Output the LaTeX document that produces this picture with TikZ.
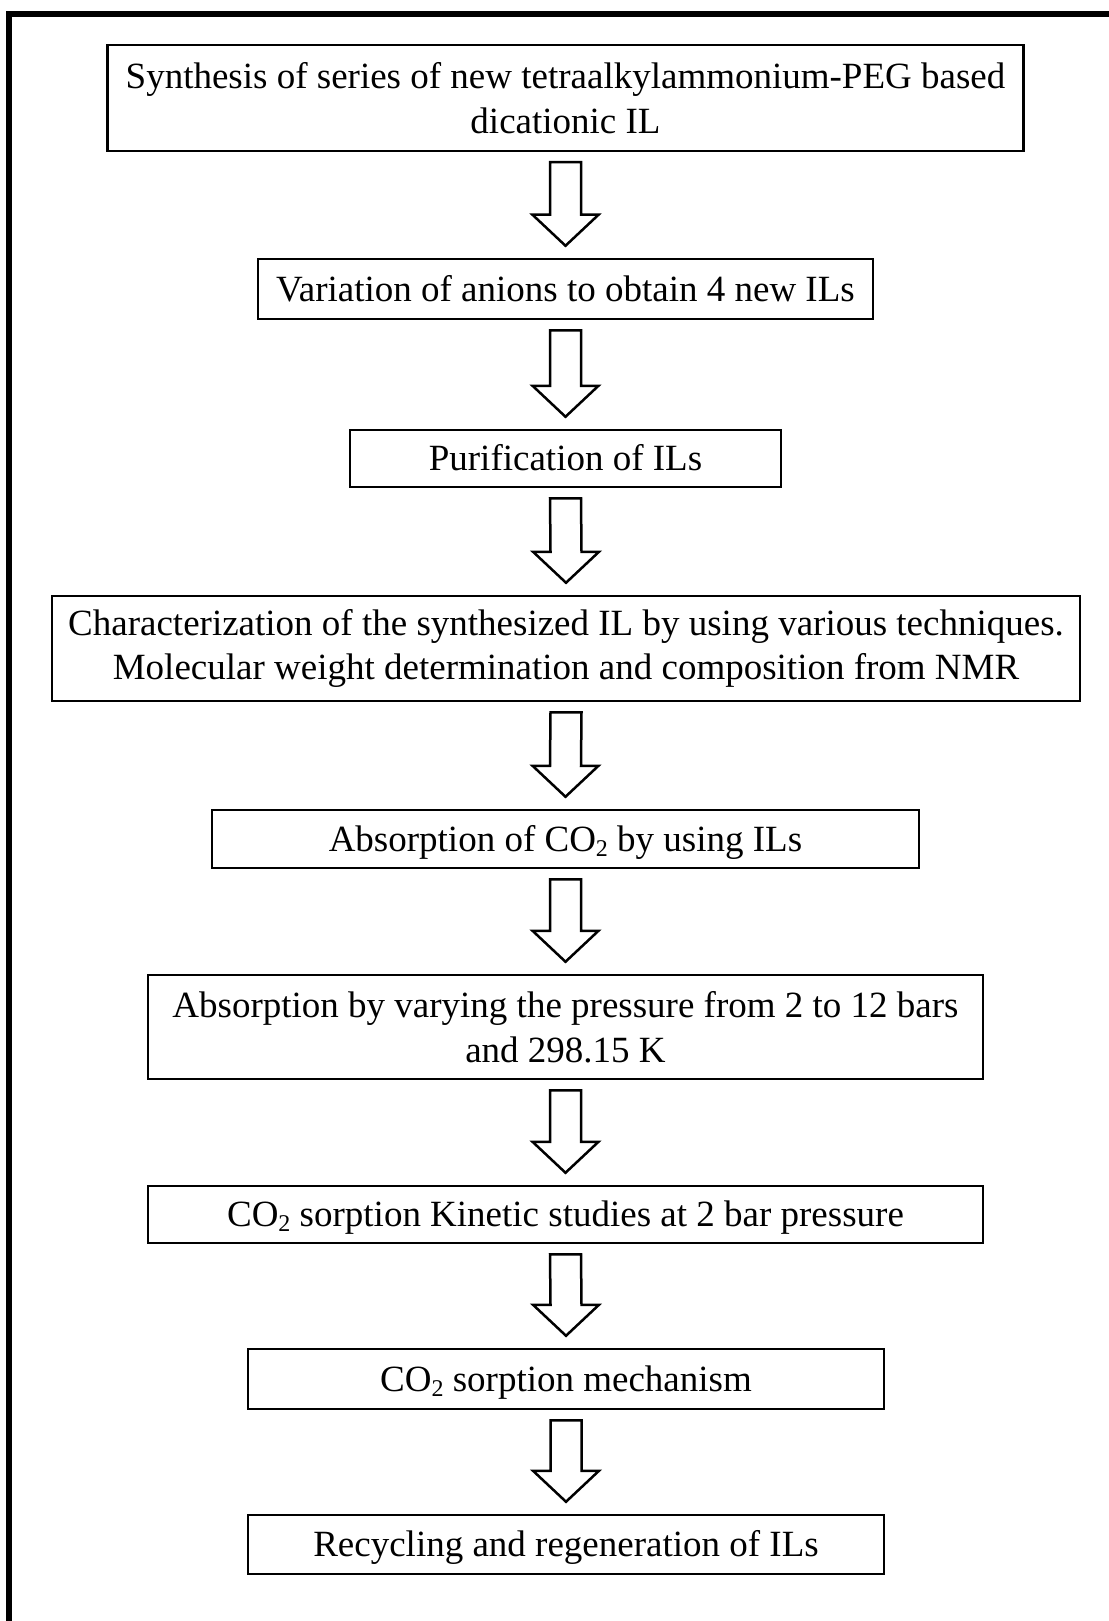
\documentclass[tikz,border=0pt]{standalone}
\usepackage{fontspec}
\setmainfont{Liberation Serif}
\usetikzlibrary{calc}
\newcommand\subtwo{\raisebox{-5pt}{\fontsize{24}{24}\selectfont 2}}
\tikzset{
  stepbox/.style={draw=black, line width=2.5pt, fill=white, inner sep=0pt, align=center,
    font=\fontsize{37}{44.5}\selectfont},
  onebox/.style={stepbox, text height=29.5pt, text depth=5pt},
  twobox/.style={stepbox, yshift=-1.5pt},
  blockarr/.style={draw=black, line width=2.5pt, line join=miter, fill=white},
}
\newcommand\flowarrow[2]{%
  \draw[blockarr] ($(#1.south)+(-15.5,-10)$) -- ($(#2.north)+(-15.5,43)$) -- ($(#2.north)+(-33,43)$)
   -- ($(#2.north)+(0,12)$) -- ($(#2.north)+(33,43)$) -- ($(#2.north)+(15.5,43)$)
   -- ($(#1.south)+(15.5,-10)$) -- cycle;}
\begin{document}
\begin{tikzpicture}[x=1pt,y=1pt]
\useasboundingbox (0,0) rectangle (1108,-1621);
\fill[white] (0,0) rectangle (1108,-1621);
\draw[line width=6pt] (9,-1625) -- (9,-14) -- (1112,-14);
\node[stepbox, minimum width=916pt, minimum height=106pt] (b1) at (565.5,-98) {\raisebox{-1.5pt}{Synthesis of series of new tetraalkylammonium-PEG based}\\\raisebox{-1.5pt}{dicationic IL}};
\node[onebox, minimum width=615pt, minimum height=60pt] (b2) at (565.5,-289) {Variation of anions to obtain 4 new ILs};
\node[onebox, minimum width=431pt, minimum height=57pt] (b3) at (565.5,-458.5) {Purification of ILs};
\node[stepbox, minimum width=1028pt, minimum height=105pt] (b4) at (566,-648.5) {\raisebox{-1.5pt}{Characterization of the synthesized IL by using various techniques.}\\\raisebox{-1.5pt}{Molecular weight determination and composition from NMR}};
\node[onebox, minimum width=707pt, minimum height=58pt] (b5) at (565.5,-839) {Absorption of CO\subtwo{} by using ILs};
\node[stepbox, minimum width=835pt, minimum height=104pt] (b6) at (565.5,-1027) {\raisebox{-1.5pt}{Absorption by varying the pressure from 2 to 12 bars}\\\raisebox{-1.5pt}{and 298.15 K}};
\node[onebox, minimum width=835pt, minimum height=57pt] (b7) at (565.5,-1214.5) {CO\subtwo{} sorption Kinetic studies at 2 bar pressure};
\node[onebox, minimum width=636pt, minimum height=60pt] (b8) at (566,-1379) {CO\subtwo{} sorption mechanism};
\node[onebox, minimum width=636pt, minimum height=59pt] (b9) at (566,-1544.5) {Recycling and regeneration of ILs};
\flowarrow{b1}{b2}
\flowarrow{b2}{b3}
\flowarrow{b3}{b4}
\flowarrow{b4}{b5}
\flowarrow{b5}{b6}
\flowarrow{b6}{b7}
\flowarrow{b7}{b8}
\flowarrow{b8}{b9}
\end{tikzpicture}
\end{document}
